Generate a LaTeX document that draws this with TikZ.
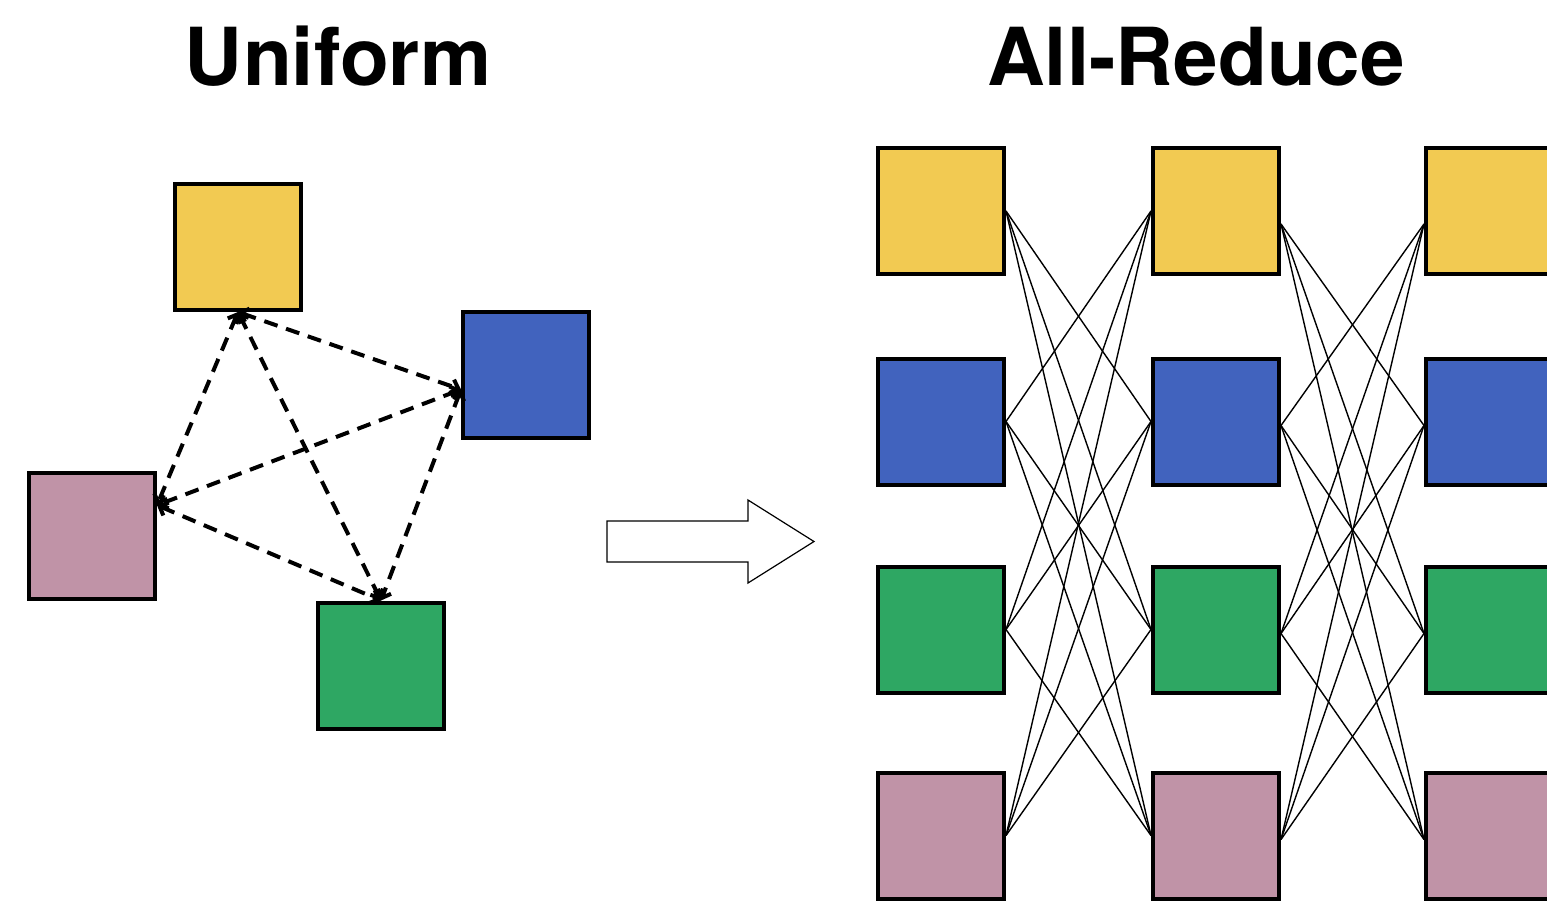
\documentclass[tikz,border=0pt]{standalone}
\usepackage{fontspec}
\setsansfont{TeX Gyre Heros}
\usetikzlibrary{arrows.meta}
\definecolor{cY}{RGB}{242,202,82}
\definecolor{cB}{RGB}{65,99,190}
\definecolor{cG}{RGB}{46,167,99}
\definecolor{cP}{RGB}{192,147,167}
\begin{document}
\begin{tikzpicture}[x=0.5pt,y=-0.5pt,
  box/.style={draw=black,line width=2pt,minimum size=63pt,inner sep=0pt},
  dline/.style={line width=2pt,dash pattern=on 7pt off 4.5pt,
    {Straight Barb[length=3.5pt,width=7pt]}-{Straight Barb[length=3.5pt,width=7pt]}},
  link/.style={line width=0.7pt},
  bigarrow/.style={draw=black,line width=0.6pt,fill=white},
  title/.style={font=\sffamily\bfseries\fontsize{40}{40}\selectfont,anchor=base}]
\useasboundingbox (0,0) rectangle (1547,901);
\clip (0,0) rectangle (1547,901);
% titles
\node[title] (t1) at (338,85) {Uniform};
\node[title] (t2) at (1196,85) {All-Reduce};
% left panel
\node[box,fill=cY] (uy) at (238,247) {};
\node[box,fill=cB] (ub) at (526,374.5) {};
\node[box,fill=cP] (up) at (92,535.5) {};
\node[box,fill=cG] (ug) at (381,665.5) {};
\draw[dline] (uy.south) -- (up.25);
\draw[dline] (uy.south) -- (ug.north);
\draw[dline] (uy.south) -- (ub.193);
\draw[dline] (ub.193) -- (up.25);
\draw[dline] (ub.193) -- (ug.north);
\draw[dline] (up.25) -- (ug.north);
% big arrow
\draw[bigarrow] (607,521) -- (748,521) -- (748,500) -- (814,541.5) -- (748,583) -- (748,562) -- (607,562) -- cycle;
% right panel
\foreach \c/\x in {a/941,b/1216,c/1489}{
  \node[box,fill=cY] (\c1) at (\x,211) {};
  \node[box,fill=cB] (\c2) at (\x,421.5) {};
  \node[box,fill=cG] (\c3) at (\x,629.5) {};
  \node[box,fill=cP] (\c4) at (\x,835.5) {};
}
\foreach \i/\o in {1/-6.5,2/-2,3/-2,4/-2}{
  \coordinate (bR\i) at ([yshift=\o pt]b\i.east);
  \coordinate (cL\i) at ([yshift=\o pt]c\i.west);
}
\foreach \i in {1,...,4}{
  \foreach \j in {1,...,4}{
    \ifnum\i=\j\else
      \draw[link] (a\i.east) -- (b\j.west);
      \draw[link] (bR\i) -- (cL\j);
    \fi
  }
}
\end{tikzpicture}
\end{document}
